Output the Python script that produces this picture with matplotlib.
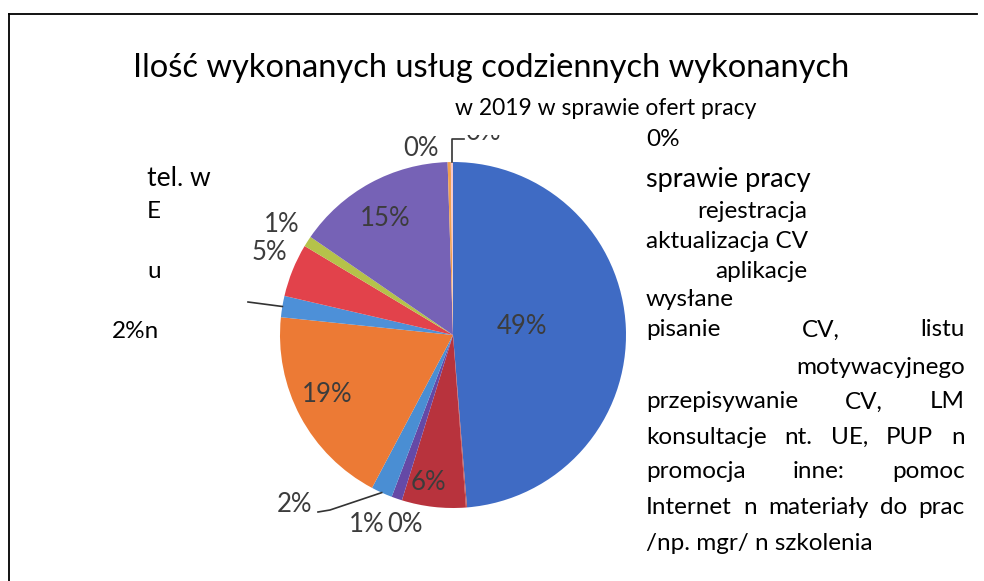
import matplotlib
matplotlib.use("Agg")
import matplotlib.pyplot as plt
from matplotlib.lines import Line2D
from matplotlib.transforms import Bbox
import numpy as np

W, H = 984, 581

# ########################################## DATA ##########################################
# slices clockwise from 12 o'clock
shares = [49, 0.1, 6, 1, 2, 19, 2, 5, 1, 15, 0.3, 0.2]
colors = ["#3F6BC4", "#C0504D", "#B8333D", "#6549A6", "#4A8ED3", "#EC7A35",
          "#4D90D8", "#E2424B", "#B5C24A", "#7662B6", "#F0A050", "#F8C8C8"]
pct_labels = [f"{round(v)}%" for v in shares]

title_1 = "Ilość wykonanych usług codziennych wykonanych"
title_2 = "w 2019 w sprawie ofert pracy"

left_lines = ["tel. w", "E", "u"]
right_lines = ["0%", "sprawie pracy", "rejestracja", "aktualizacja CV", "aplikacje",
               "wysłane", "pisanie CV, listu", "motywacyjnego", "przepisywanie CV, LM",
               "konsultacje nt. UE, PUP n", "promocja inne: pomoc",
               "Internet n materiały do prac", "/np. mgr/ n szkolenia"]

plt.rcParams['font.family'] = ['Lato', 'DejaVu Sans']


def px(x, y):
    return (x / W, 1 - y / H)


fig = plt.figure(figsize=(W / 100, H / 100), dpi=100)
renderer = fig.canvas.get_renderer()

# ########################################## FRAME ##########################################
fig.add_artist(Line2D([9 / W, 977 / W], [1 - 14 / H, 1 - 14 / H], color="black", lw=1.3))
fig.add_artist(Line2D([9 / W, 9 / W], [1 - 14 / H, 0], color="black", lw=1.3))

# ########################################## PIE ##########################################
cx, cy, r = 453, 335, 173
ax = fig.add_axes([(cx - r) / W, (H - cy - r) / H, 2 * r / W, 2 * r / H])
wedges, _ = ax.pie(shares, colors=colors, startangle=90, counterclock=False,
                   wedgeprops=dict(linewidth=0))
ax.set_xlim(-1, 1)
ax.set_ylim(-1, 1)
ax.axis("off")


def edge_point(i, rad=1.0):
    w = wedges[i]
    a = np.deg2rad((w.theta1 + w.theta2) / 2)
    dx, dy = ax.transData.transform((rad * np.cos(a), rad * np.sin(a)))
    return dx, H - dy


label_color = "#3C3C3C"
label_size = 18.5
label_pos = {0: (522, 327), 1: (405, 525), 2: (428, 482), 3: (367, 525),
             4: (294, 505), 5: (327, 395), 7: (269, 252), 8: (282, 224),
             9: (385, 219), 10: (421, 148)}
for i, (x, y) in label_pos.items():
    fig.text(*px(x, y), pct_labels[i], fontsize=label_size, color=label_color,
             ha="center", va="center")

# label of the thin top slice, half hidden under the subtitle
t = fig.text(*px(465, 133), pct_labels[11], fontsize=label_size, color=label_color,
             ha="left", va="center")
t.set_clip_box(Bbox.from_extents(457, 0, 530, H - 135))
t.set_clip_on(True)


def leader(points):
    xs = [p[0] / W for p in points]
    ys = [1 - p[1] / H for p in points]
    fig.add_artist(Line2D(xs, ys, color="#333333", lw=1.2))


leader([edge_point(4), (330, 510), (318, 512)])
leader([edge_point(6), (248, 302)])
leader([edge_point(11), (edge_point(11)[0], 139), (464, 139)])

# ########################################## TEXTS ##########################################
fig.text(*px(491, 68), title_1, fontsize=23.5, ha="center", va="center")
fig.text(*px(606, 108), title_2, fontsize=16.5, ha="center", va="center")

fig.text(*px(147, 178), left_lines[0], fontsize=19, va="center")
fig.text(*px(147, 212), left_lines[1], fontsize=17.5, va="center")
fig.text(*px(147, 272), left_lines[2], fontsize=17.5, va="center")
fig.text(*px(112, 332), pct_labels[6] + "n", fontsize=17.5, va="center")


def justify(text, x0, x1, y, size):
    words = text.split()
    objs = [fig.text(0, 0, w, fontsize=size, va="center") for w in words]
    widths = [o.get_window_extent(renderer).width for o in objs]
    gap = (x1 - x0 - sum(widths)) / (len(words) - 1)
    x = x0
    for o, w in zip(objs, widths):
        o.set_position(px(x, y))
        x += w + gap


xl, xm, xr = 646, 807, 965
ys = [140, 179, 212, 242, 271, 299, 330, 367, 402, 437, 472, 507, 544]
modes = ["l", "l", "m", "l", "m", "l", "j", "r", "j", "j", "j", "j", "l"]
for line, y, mode in zip(right_lines, ys, modes):
    size = 19.5 if line == "sprawie pracy" else 17.5
    if mode == "l":
        fig.text(*px(xl, y), line, fontsize=size, va="center")
    elif mode == "m":
        fig.text(*px(xm, y), line, fontsize=size, va="center", ha="right")
    elif mode == "r":
        fig.text(*px(xr, y), line, fontsize=size, va="center", ha="right")
    else:
        justify(line, xl, xr, y, size)

fig.savefig("out.png", dpi=100, facecolor="white")
